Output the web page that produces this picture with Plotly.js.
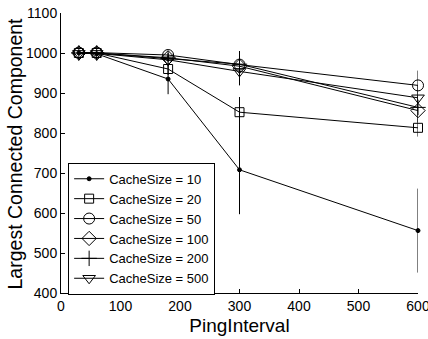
<!DOCTYPE html>
<html>
<head>
<meta charset="utf-8">
<script src="https://cdn.plot.ly/plotly-3.0.1.min.js"></script>
<style>html,body{margin:0;padding:0;background:#fff;}#chart{width:428px;height:339px;}</style>
</head>
<body>
<div id="chart"></div>
<script>
const pingInterval = [30, 60, 180, 300, 600];
const seriesNames = ["CacheSize = 10", "CacheSize = 20", "CacheSize = 50", "CacheSize = 100", "CacheSize = 200", "CacheSize = 500"];
const cs10 = [1000, 998, 935, 708, 556];
const err10 = [2, 3, 38, 111, 105];
const cs20 = [1000, 1000, 960, 852, 813];
const err20 = [1, 2, 15, 38, 22];
const cs50 = [1001, 1001, 995, 971, 919];
const err50 = [1, 1, 5, 30, 37];
const cs100 = [1000, 1000, 988, 967, 856];
const err100 = [1, 1, 6, 30, 30];
const cs200 = [1000, 1000, 986, 972, 864];
const err200 = [1, 1, 6, 33, 30];
const cs500 = [999, 999, 983, 954, 888];
const err500 = [1, 1, 6, 35, 30];

const values = [cs10, cs20, cs50, cs100, cs200, cs500];
const errors = [err10, err20, err50, err100, err200, err500];
const symbols = ["circle", "square-open", "circle-open", "diamond-open", "cross-thin-open", "triangle-down-open"];
const sizes = [4, 9, 11, 11, 11, 11];

const traces = values.map((v, i) => ({
  x: pingInterval,
  y: v,
  name: seriesNames[i],
  type: "scatter",
  mode: "lines+markers",
  cliponaxis: false,
  line: {color: "#000", width: 1},
  marker: {symbol: symbols[i], size: sizes[i], color: "#000", line: {color: "#000", width: 1}},
  error_y: {type: "data", array: errors[i], visible: true, color: "#000", thickness: 1, width: 0}
}));

const font = {family: "Liberation Sans, Arial, Helvetica, sans-serif", color: "#000"};

Plotly.newPlot("chart", traces, {
  width: 428, height: 339,
  margin: {l: 61, r: 10, t: 13, b: 46},
  paper_bgcolor: "#fff", plot_bgcolor: "#fff",
  font: Object.assign({size: 14}, font),
  showlegend: true,
  legend: {
    x: 0.02, y: 0.465, xanchor: "left", yanchor: "top",
    bgcolor: "#fff", bordercolor: "#000", borderwidth: 1,
    font: Object.assign({size: 13}, font),
    tracegroupgap: 0
  },
  annotations: [{
    text: "Largest Connected Component", textangle: -90,
    xref: "paper", yref: "paper", x: -0.1275, y: 0.5,
    xanchor: "center", yanchor: "middle", showarrow: false,
    font: Object.assign({size: 19.5}, font)
  }],
  xaxis: {
    range: [0, 600], tickvals: [0, 100, 200, 300, 400, 500, 600],
    showline: true, linecolor: "#000", linewidth: 1, mirror: false,
    ticks: "inside", ticklen: 4, tickcolor: "#000",
    showgrid: false, zeroline: false, ticklabeloverflow: "allow",
    tickfont: Object.assign({size: 14}, font),
    title: {text: "PingInterval", font: Object.assign({size: 19}, font), standoff: 5}
  },
  yaxis: {
    range: [400, 1100], tickvals: [400, 500, 600, 700, 800, 900, 1000, 1100],
    showline: true, linecolor: "#000", linewidth: 1, mirror: false,
    ticks: "inside", ticklen: 4, tickcolor: "#000",
    showgrid: false, zeroline: false, ticklabeloverflow: "allow",
    tickfont: Object.assign({size: 14}, font)
  }
}, {staticPlot: true});
</script>
</body>
</html>
